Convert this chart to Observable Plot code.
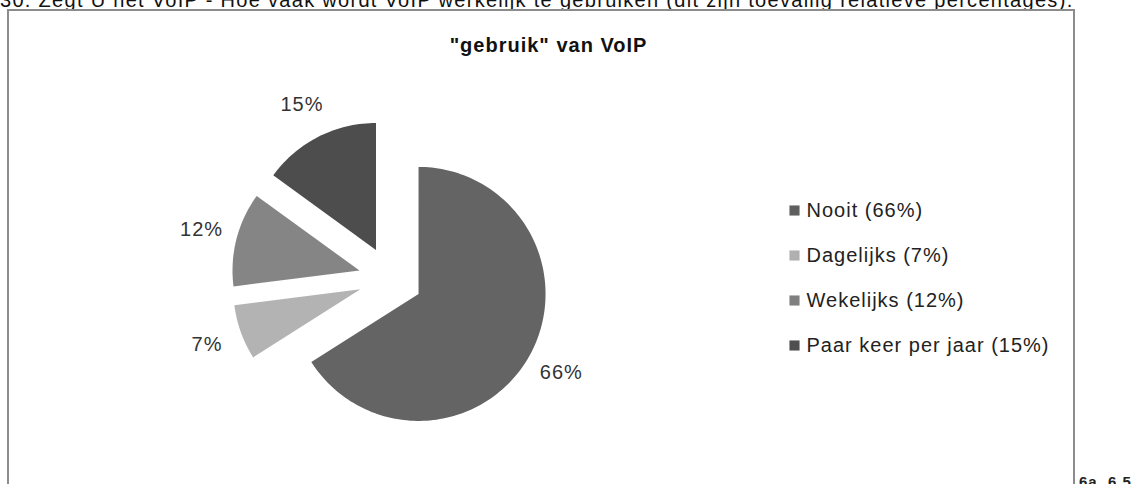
<!DOCTYPE html>
<html>
<head>
<meta charset="utf-8">
<script src="https://cdn.jsdelivr.net/npm/d3@7"></script>
<script src="https://cdn.jsdelivr.net/npm/@observablehq/plot@0.6"></script>
<style>
  html, body { margin: 0; padding: 0; background: #fff; overflow: hidden; width: 1131px; height: 484px; }
  #wrap { position: relative; width: 1131px; height: 484px; overflow: hidden; }
  #topline { position: absolute; left: 0; top: -10px; line-height: 21px; white-space: nowrap; font-family: "Liberation Sans", Arial, sans-serif; font-size: 20px; color: #111; letter-spacing: 1.3px; }
  #frame { position: absolute; left: 7px; top: 9px; width: 1064px; height: 520px; border: 2px solid #8c8c8c; box-sizing: content-box; }
  #corner { position: absolute; left: 1079px; top: 474px; line-height: 16px; white-space: nowrap; font-family: "Liberation Sans", Arial, sans-serif; font-size: 15px; font-weight: bold; color: #222; letter-spacing: 1px; }
  #chart { position: absolute; left: 0; top: 0; }
  #chart svg text { letter-spacing: 1px; }
</style>
</head>
<body>
<div id="wrap">
  <div id="topline">30. Zegt U het VoIP ‑ Hoe vaak wordt VoIP werkelijk te gebruiken (dit zijn toevallig relatieve percentages).</div>
  <div id="frame"></div>
  <div id="corner">6a. 6.5</div>
  <div id="chart"></div>
</div>
<script>
// ---- data ----
const title = "\"gebruik\" van VoIP";
const categories = ["Nooit", "Dagelijks", "Wekelijks", "Paar keer per jaar"];
const values = [66, 7, 12, 15];
const colors = ["#646464", "#b3b3b3", "#858585", "#4d4d4d"];
const legendColors = ["#5f5f5f", "#b0b0b0", "#808080", "#4f4f4f"];

// ---- layout ----
const W = 1131, H = 484;
const cx = 390, cy = 278, R = 127, explode = 32, labelR = 195;

const arcs = d3.pie().sort(null).value(d => d)(values);

const slices = arcs.map((a, i) => {
  const mid = (a.startAngle + a.endAngle) / 2;
  const ox = cx + explode * Math.sin(mid), oy = cy - explode * Math.cos(mid);
  const n = Math.max(4, Math.ceil((a.endAngle - a.startAngle) / (2 * Math.PI) * 240));
  const pts = [{x: ox, y: oy}];
  for (let k = 0; k <= n; k++) {
    const t = a.startAngle + (a.endAngle - a.startAngle) * k / n;
    pts.push({x: ox + R * Math.sin(t), y: oy - R * Math.cos(t)});
  }
  pts.push({x: ox, y: oy});
  return {pts, color: colors[i]};
});

const labels = arcs.map((a, i) => {
  const mid = (a.startAngle + a.endAngle) / 2;
  return {x: cx + labelR * Math.sin(mid), y: cy - labelR * Math.cos(mid), text: values[i] + "%"};
});

const legend = categories.map((c, i) => ({
  x: 794, y: 210 + 45 * i, text: `${c} (${values[i]}%)`, color: legendColors[i]
}));

const marks = [];
for (const s of slices) {
  marks.push(Plot.line(s.pts, {x: "x", y: "y", fill: s.color, stroke: "none", curve: "linear"}));
}
marks.push(Plot.text(labels, {x: "x", y: "y", text: "text", fontSize: 20, fill: "#333"}));
marks.push(Plot.dot(legend, {x: "x", y: "y", symbol: "square", r: 5.7, fill: "color", stroke: "none"}));
marks.push(Plot.text(legend, {x: d => d.x + 12, y: "y", text: "text", textAnchor: "start", fontSize: 20, fill: "#222"}));
marks.push(Plot.text([title], {x: () => 548, y: () => 45, text: d => d, fontSize: 20, fontWeight: "bold", fill: "#111"}));

const chart = Plot.plot({
  width: W, height: H, margin: 0,
  x: {domain: [0, W], range: [0, W], axis: null},
  y: {domain: [0, H], range: [0, H], axis: null},
  style: {fontFamily: "'Liberation Sans', Arial, sans-serif", background: "transparent"},
  marks
});
document.getElementById("chart").appendChild(chart);
</script>
</body>
</html>
